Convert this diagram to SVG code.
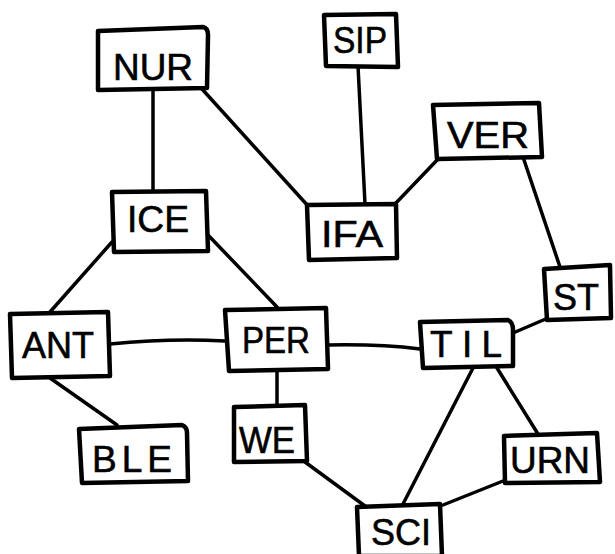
<svg xmlns="http://www.w3.org/2000/svg" width="615" height="554" viewBox="0 0 615 554">
<style>
.box{fill:#fff;stroke:#000;stroke-width:4.5;stroke-linejoin:round}
.lbl{font-family:"Liberation Sans","DejaVu Sans",sans-serif;font-size:37px;fill:#000;stroke:#000;stroke-width:0.6;text-anchor:middle}
.edge{fill:none;stroke:#000;stroke-width:3.5;stroke-linecap:round}
</style>
<rect width="615" height="554" fill="#fff"/>
<g id="connectors">
<line class="edge" x1="153" y1="89" x2="153" y2="191"/>
<line class="edge" x1="202" y1="89" x2="309" y2="207"/>
<line class="edge" x1="358" y1="66" x2="365" y2="204"/>
<line class="edge" x1="440" y1="157" x2="395" y2="204"/>
<line class="edge" x1="523" y1="157" x2="560" y2="267"/>
<line class="edge" x1="112" y1="242" x2="50" y2="312"/>
<line class="edge" x1="208" y1="235" x2="277" y2="307"/>
<path class="edge" d="M110 344 Q170 338 225 341"/>
<line class="edge" x1="50" y1="378" x2="117" y2="425"/>
<line class="edge" x1="277" y1="369" x2="277" y2="405"/>
<path class="edge" d="M328 345 Q380 344 420 349"/>
<line class="edge" x1="513" y1="333" x2="548" y2="318"/>
<line class="edge" x1="473" y1="368" x2="403" y2="504"/>
<line class="edge" x1="497" y1="368" x2="538" y2="434"/>
<line class="edge" x1="305" y1="462" x2="365" y2="506"/>
<line class="edge" x1="443" y1="505" x2="503" y2="481"/>
</g>
<g id="NUR"><path class="box" d="M98 31 L203 27 Q208 28 208 35 L207 88 L98 90 Z"/><text class="lbl" x="153" y="80" textLength="80" lengthAdjust="spacingAndGlyphs">NUR</text></g>
<g id="SIP"><path class="box" d="M324 15 L396 14 L398 67 L326 66 Z"/><text class="lbl" x="360" y="53" textLength="54" lengthAdjust="spacingAndGlyphs">SIP</text></g>
<g id="VER"><path class="box" d="M433 105 L539 103 L542 157 L437 159 Z"/><text class="lbl" x="488" y="148" textLength="82" lengthAdjust="spacingAndGlyphs">VER</text></g>
<g id="ICE"><path class="box" d="M112 192 L206 191 L208 251 L114 252 Z"/><text class="lbl" x="158" y="232" textLength="62" lengthAdjust="spacingAndGlyphs">ICE</text></g>
<g id="IFA"><path class="box" d="M307 205 L396 204 L397 258 L309 260 Z"/><text class="lbl" x="352" y="247" textLength="62" lengthAdjust="spacingAndGlyphs">IFA</text></g>
<g id="ST"><path class="box" d="M544 269 L610 265 L611 318 L547 320 Z"/><text class="lbl" x="576" y="310" textLength="46" lengthAdjust="spacingAndGlyphs">ST</text></g>
<g id="ANT"><path class="box" d="M10 314 L108 312 L110 376 L12 378 Z"/><text class="lbl" x="58" y="358" textLength="72" lengthAdjust="spacingAndGlyphs">ANT</text></g>
<g id="PER"><path class="box" d="M225 310 L326 308 L328 369 L229 371 Z"/><text class="lbl" x="276" y="353" textLength="68" lengthAdjust="spacingAndGlyphs">PER</text></g>
<g id="TIL"><path class="box" d="M420 322 L508 320 Q513 322 513 330 L513 366 L423 368 Z"/><text class="lbl" x="466" y="357" textLength="72" lengthAdjust="spacing">TIL</text></g>
<g id="WE"><path class="box" d="M234 407 L305 405 L307 461 L234 462 Z"/><text class="lbl" x="267" y="453" textLength="56" lengthAdjust="spacingAndGlyphs">WE</text></g>
<g id="BLE"><path class="box" d="M79 429 L182 425 Q187 427 187 433 L188 481 L82 483 Z"/><text class="lbl" x="132" y="472" textLength="80" lengthAdjust="spacing">BLE</text></g>
<g id="URN"><path class="box" d="M504 436 L597 433 L600 482 L505 483 Z"/><text class="lbl" x="550" y="473" textLength="80" lengthAdjust="spacingAndGlyphs">URN</text></g>
<g id="SCI"><path class="box" d="M357 507 L440 504 L442 556 L359 556 Z"/><text class="lbl" x="401" y="545" textLength="60" lengthAdjust="spacingAndGlyphs">SCI</text></g>
</svg>
